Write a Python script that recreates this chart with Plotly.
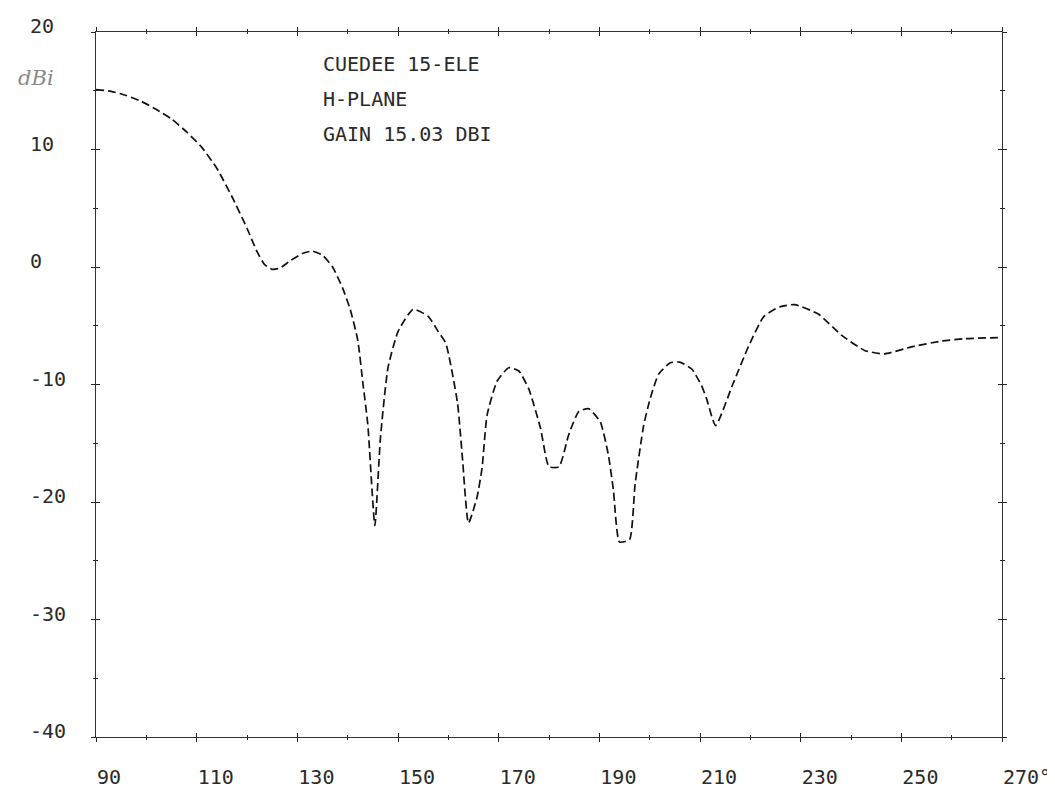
import plotly.graph_objects as go

# H-plane pattern, azimuth in degrees, gain in dBi
angle_deg = [90, 93, 96, 99, 102, 105, 108, 111, 114, 117, 120, 122, 123.5, 125,
             126.5, 128.5, 131, 133, 135, 137, 139, 140.5, 142, 143, 144, 145.4,
             146.5, 148, 150, 153, 156, 158,
             159.5, 161.8, 162.8, 164, 165.7, 166.7, 167.7, 169.7, 172, 174, 176,
             178.3, 180, 182, 183.9, 185.9, 187.9, 190.2, 191.8, 192.8, 194, 196,
             197.1, 198.8, 200.1, 201.8, 204.1, 206, 208.4, 210.3, 211.3, 213.1,
             216.5, 219.7, 222.7, 225.8, 228.8, 233.5, 238.1, 242.7, 246.6, 252,
             258, 262.7, 270]
gain_dbi = [15.1, 14.95, 14.6, 14.1, 13.4, 12.6, 11.5, 10.2, 8.4, 6.0, 3.3, 1.3, 0.2, -0.2,
            -0.1, 0.5, 1.15, 1.35, 1.0, 0.0, -1.8, -3.6, -6.2, -9.8, -13.4, -22.0,
            -14.6, -8.6, -5.5, -3.6, -4.2, -5.5,
            -6.5, -11.5, -16.25, -21.8, -19.6, -17.1, -12.6, -9.7, -8.57, -8.85, -10.4,
            -13.7, -17.0, -17.0, -14.3, -12.3, -12.06, -13.2, -16.0, -19.0, -23.4, -23.2,
            -18.5, -13.5, -11.2, -9.1, -8.15, -8.1, -8.7, -10.1, -11.2, -13.5,
            -10.0, -6.7, -4.2, -3.4, -3.2, -4.0, -5.8, -7.1, -7.4, -6.8,
            -6.3, -6.1, -6.0]

x_tick_vals = [90, 110, 130, 150, 170, 190, 210, 230, 250, 270]
x_tick_text = ["90", "110", "130", "150", "170", "190", "210", "230", "250", "270°"]
y_tick_vals = [20, 10, 0, -10, -20, -30, -40]
y_tick_text = ["20", "10", "0", "-10", "-20", "-30", "-40"]

title_lines = ["CUEDEE 15-ELE", "H-PLANE", "GAIN 15.03 DBI"]
unit_label = "dBi"

FONT = "DejaVu Sans Mono"
INK = "#2a2a2a"

fig = go.Figure()
fig.add_trace(go.Scatter(
    x=angle_deg, y=gain_dbi, mode="lines",
    line=dict(color="#111111", width=1.7, dash="8px,4px", shape="spline", smoothing=0.5),
    showlegend=False, hoverinfo="skip"))
fig.add_trace(go.Scatter(x=[], y=[], xaxis="x2", yaxis="y2", showlegend=False))

axis_common = dict(showgrid=False, zeroline=False, linecolor="#333333", linewidth=1,
                   tickcolor="#222222", tickwidth=1)

fig.update_layout(
    width=1055, height=793,
    margin=dict(l=88, r=59, t=24, b=52),
    paper_bgcolor="white", plot_bgcolor="white",
    font=dict(family=FONT, size=20, color=INK),
    xaxis=dict(range=[90, 270], tickmode="array", tickvals=x_tick_vals, ticktext=x_tick_text,
               ticks="outside", ticklen=4, mirror="ticks", showline=True,
               ticklabelposition="outside right", ticklabelstandoff=22,
               minor=dict(tickmode="linear", tick0=90, dtick=10, ticks="outside",
                          ticklen=2, tickcolor="#222222"),
               **axis_common),
    yaxis=dict(range=[-40, 20], tickmode="array", tickvals=y_tick_vals,
               showticklabels=False,
               ticks="outside", ticklen=4, mirror="ticks", showline=True,
               minor=dict(tickmode="linear", tick0=-40, dtick=5, ticks="outside",
                          ticklen=2, tickcolor="#222222"),
               **axis_common),
    xaxis2=dict(range=[90, 270], overlaying="x", side="bottom", anchor="y2",
                tickmode="array", tickvals=x_tick_vals, ticks="inside", ticklen=4,
                mirror="ticks", showticklabels=False, showline=False,
                minor=dict(tickmode="linear", tick0=90, dtick=10, ticks="inside",
                           ticklen=2, tickcolor="#222222"),
                **axis_common),
    yaxis2=dict(range=[-40, 20], overlaying="y", side="left", anchor="x2",
                tickmode="array", tickvals=y_tick_vals, ticks="inside", ticklen=4,
                mirror="ticks", showticklabels=False, showline=False,
                minor=dict(tickmode="linear", tick0=-40, dtick=5, ticks="inside",
                           ticklen=2, tickcolor="#222222"),
                **axis_common),
)

# y tick labels: left-aligned, sitting just above their ticks (plotter style)
for val, txt in zip(y_tick_vals, y_tick_text):
    fig.add_annotation(text=txt, xref="paper", yref="y", x=-0.0749, y=val,
                       xanchor="left", yanchor="middle", yshift=6, showarrow=False,
                       font=dict(family=FONT, size=20, color=INK))

line_y = [0.954, 0.905, 0.855]
for txt, yy in zip(title_lines, line_y):
    fig.add_annotation(text=txt, xref="paper", yref="paper", x=0.248, y=yy,
                       xanchor="left", yanchor="middle", showarrow=False,
                       font=dict(family=FONT, size=20, color=INK))

fig.add_annotation(text=unit_label, xref="paper", yref="paper", x=-0.088, y=0.935,
                   xanchor="left", yanchor="middle", showarrow=False,
                   font=dict(family="DejaVu Serif", size=21, color="#8a8a8a", style="italic"))

fig.write_html("out.html")
